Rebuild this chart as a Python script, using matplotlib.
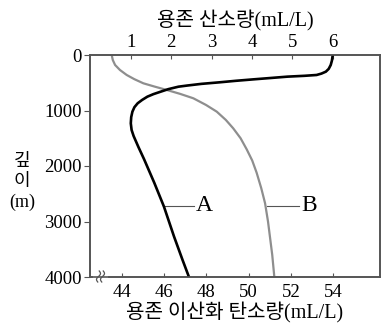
import matplotlib.pyplot as plt
import numpy as np

plt.rcParams["font.family"] = ["Liberation Serif", "Noto Sans CJK KR"]

# A: dissolved oxygen (top axis)
o2_depth = [0, 100, 180, 250, 300, 335, 360, 375, 390, 415, 438, 465, 492, 520, 550, 571,
            615, 661, 705, 751, 810, 870, 940, 1021, 1120, 1231, 1351, 1460, 1660, 1880,
            2300, 2730, 3270, 3690, 4000]
o2_value = [6.0, 5.98, 5.95, 5.9, 5.83, 5.72, 5.6, 5.3, 4.88, 4.45, 4.05, 3.6, 3.2, 2.75, 2.4, 2.18,
            1.93, 1.74, 1.56, 1.41, 1.28, 1.17, 1.09, 1.04, 1.01, 1.0, 1.02, 1.07, 1.19, 1.33,
            1.58, 1.82, 2.07, 2.28, 2.44]

# B: dissolved carbon dioxide (bottom axis)
co2_depth = [0, 90, 180, 270, 360, 435, 510, 570, 630, 700, 780, 900, 1021, 1170, 1321, 1500,
             1700, 1900, 2120, 2400, 2670, 3000, 3270, 3600, 4000]
co2_value = [43.51, 43.56, 43.67, 43.9, 44.22, 44.58, 45.01, 45.55, 46.12, 46.75, 47.38, 47.98,
             48.49, 48.92, 49.27, 49.62, 49.91, 50.17, 50.38, 50.6, 50.78, 50.92, 51.01, 51.12, 51.22]

depth_ticks = [0, 1000, 2000, 3000, 4000]
o2_ticks = [1, 2, 3, 4, 5, 6]
co2_ticks = [44, 46, 48, 50, 52, 54]

FRAME = "#555555"
GRAY = "#8e8e8e"

fig = plt.figure(figsize=(3.82, 3.27), dpi=100)
ax = fig.add_axes([90 / 382, 1 - 277 / 327, 290 / 382, 222 / 327])
ax.set_ylim(4000, 0)
ax.set_xlim(42.48, 56.23)
ax.plot(co2_value, co2_depth, color=GRAY, lw=1.6, solid_joinstyle="round")

top = ax.twiny()
top.set_xlim(-0.01, 7.17)
top.plot(o2_value, o2_depth, color="black", lw=1.9, solid_joinstyle="round")

for a in (ax, top):
    for s in a.spines.values():
        s.set_color(FRAME)
        s.set_linewidth(1.2)

ax.set_xticks(co2_ticks)
ax.set_yticks(depth_ticks)
ax.tick_params(axis="x", direction="in", length=3, width=0.8, color=FRAME,
               labelsize=13.5, pad=5)
ax.tick_params(axis="y", direction="out", length=4, width=0.8, color=FRAME,
               labelsize=13.5, pad=2)
top.set_xticks(o2_ticks)
top.tick_params(axis="x", direction="in", length=3, width=0.8, color=FRAME,
                labelsize=13.5, pad=3)

ax.set_xlabel("용존 이산화 탄소량(mL/L)", fontsize=14.5, labelpad=1)
top.set_xlabel("용존 산소량(mL/L)", fontsize=14.5, labelpad=5)
fig.text(22 / 382, 1 - 182 / 327, "깊\n이\n(m)", fontsize=13, ha="center", va="center",
         linespacing=1.28)

# curve labels
ax.plot([45.95, 47.4], [2715, 2715], color=FRAME, lw=0.8)
ax.text(47.5, 2715, "A", fontsize=17, ha="left", va="center")
ax.plot([50.85, 52.4], [2715, 2715], color=FRAME, lw=0.8)
ax.text(52.5, 2715, "B", fontsize=17, ha="left", va="center")

# axis break on the bottom spine
tr = ax.transAxes
def px(x, y):
    return (x - 90) / 290, (277 - y) / 222
x0, y0 = px(95, 277)
x1, y1 = px(106, 277)
ax.plot([x0, x1], [y0, y1], color="white", lw=3, transform=tr, clip_on=False, zorder=5)
t = np.linspace(0, 1, 30)
for cx in (98.5, 102.5):
    xs = [px(cx + 1.6 * np.sin(2 * np.pi * v) + 1.5 * (0.5 - v), 0)[0] for v in t]
    ys = [px(0, 271 + 11 * v)[1] for v in t]
    ax.plot(xs, ys, color=FRAME, lw=0.9, transform=tr, clip_on=False, zorder=6)

fig.savefig("out.png", dpi=100, facecolor="white")
